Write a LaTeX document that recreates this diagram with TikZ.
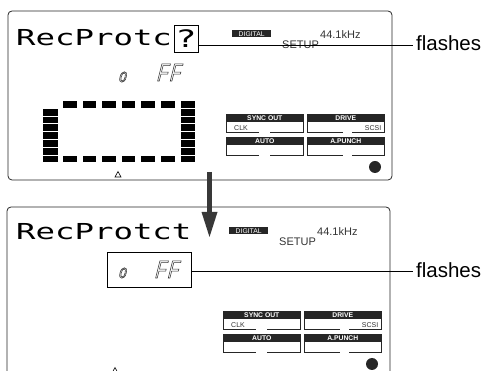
\documentclass[tikz,border=0pt]{standalone}
\usepackage{fontspec}
\setmainfont{Liberation Sans}
\newfontfamily\lcdfont[FakeStretch=1.47]{DejaVu Sans Mono}
\newfontfamily\segfont[FakeStretch=0.7,FakeSlant=0.25]{Liberation Sans}
\usetikzlibrary{arrows.meta}
\newcommand\outl[1]{\special{pdf:literal direct 1 Tr 0.55 w}#1\special{pdf:literal direct 0 Tr}}
\tikzset{
  panel/.style={draw=black!85, line width=0.8pt, rounded corners=4pt},
  lcd/.style={font=\lcdfont\fontsize{22}{22}\selectfont, inner sep=0pt},
  seg/.style={font=\segfont\fontsize{25}{25}\selectfont, inner sep=0pt, anchor=base west, text=black!80},
  segsmall/.style={font=\segfont\fontsize{19}{19}\selectfont, inner sep=0pt, anchor=base west, text=black!80},
  hdr/.style={fill=black!85, draw=black!85, line width=0.6pt, text=white, font=\bfseries\fontsize{6.8}{6.8}\selectfont, inner sep=0pt, minimum height=7pt, minimum width=77pt, anchor=north west},
  digbox/.style={fill=black!85, text=white, font=\fontsize{6.8}{6.8}\selectfont, inner sep=0pt, minimum height=7pt, minimum width=39pt, anchor=north west},
  smalltxt/.style={font=\fontsize{11}{11}\selectfont, inner sep=0pt, text=black!80},
  tinytxt/.style={font=\fontsize{7}{7}\selectfont, inner sep=0pt, text=black!80},
  btnline/.style={draw=black!85, line width=0.6pt},
  dot/.style={circle, fill=black!85, minimum size=12pt, inner sep=0pt},
  flash/.style={font=\fontsize{20.5}{20.5}\selectfont, inner sep=0pt, anchor=base west},
  callout/.style={draw=black, line width=0.8pt},
  blk/.style={fill=black}
}
\newcommand\panelparts[1]{%
  \node[digbox] (#1dig) at (232,30) {DIGITAL};
  \node[smalltxt, anchor=base west] (#1khz) at (320,39) {44.1kHz};
  \node[smalltxt, anchor=base west] (#1setup) at (282,49) {SETUP};
  \node[hdr] (#1sync) at (226,114) {SYNC OUT};
  \node[hdr] (#1drive) at (307,114) {DRIVE};
  \node[hdr] (#1auto) at (226,137) {AUTO};
  \node[hdr] (#1apunch) at (307,137) {A.PUNCH};
  \draw[btnline] (#1sync.south west) -- ++(0,11) -- ++(33,0) (#1sync.south east) -- ++(0,11) -- ++(-34,0);
  \draw[btnline] (#1drive.south west) -- ++(0,11) -- ++(36,0) (#1drive.south east) -- ++(0,11) -- ++(-33,0);
  \draw[btnline] (#1auto.south west) -- ++(0,11) -- ++(33,0) (#1auto.south east) -- ++(0,11) -- ++(-34,0);
  \draw[btnline] (#1apunch.south west) -- ++(0,11) -- ++(36,0) (#1apunch.south east) -- ++(0,11) -- ++(-33,0);
  \node[tinytxt, anchor=base west] (#1clk) at (234,130.5) {CLK};
  \node[tinytxt, anchor=base east] (#1scsi) at (381.5,130.5) {SCSI};
  \node[dot] (#1dot) at (375,167) {};
}
\begin{document}
\begin{tikzpicture}[x=1pt,y=-1pt]
\useasboundingbox (0,0) rectangle (488,371);
% ---------- top panel ----------
\draw[panel] (8,11) rectangle (392,180);
\panelparts{t}
\node[lcd, anchor=base west] (rp1) at (16,46) {RecProtc};
\node[lcd, draw, line width=0.7pt, minimum width=24pt, minimum height=27pt, font=\lcdfont\fontsize{24}{24}\selectfont] (qbox) at (186,38.5) {?};
\node[segsmall] (to) at (118,82) {\outl{o}};
\node[seg] (tff) at (156,81) {\outl{F\kern2ptF}};
% level meter blocks
\foreach \i in {0,...,6} \fill[blk] (43,108.8+7.8*\i) rectangle ++(14.5,6.8);
\foreach \i in {0,...,7} \fill[blk] (181,101+7.8*\i) rectangle ++(13.5,6.8);
\foreach \i in {0,...,5} {
  \fill[blk] (63+19.6*\i,101) rectangle ++(13.5,6.8);
  \fill[blk] (63+19.6*\i,155.6) rectangle ++(13.5,6.8);
}
\draw[line width=0.6pt, line join=miter] (115,177) -- (118,171.5) -- (121,177) -- cycle;
% callout top
\node[flash] (fl1) at (416,51) {flashes};
\coordinate (fe1) at (413,45);
\draw[callout] (qbox.east |- fe1) -- (fe1);
% ---------- bottom panel ----------
\draw[panel] (7,371) -- (7,207) -- (390,207) -- (390,371);
\begin{scope}[shift={(-3,197)}]
\panelparts{b}
\end{scope}
\node[lcd, anchor=base west] (rp2) at (16,240) {RecProtct};
\node[draw, line width=0.7pt, minimum width=84pt, minimum height=35pt, inner sep=0pt] (fbox) at (149,269.5) {};
\node[segsmall] (bo) at (118,278) {\outl{o}};
\node[seg] (bff) at (154,278) {\outl{F\kern2ptF}};
\draw[line width=0.6pt] (111.5,374) -- (115,367.5) -- (118.5,374);
\node[flash] (fl2) at (416,278) {flashes};
\coordinate (fe2) at (413,271);
\draw[callout] (fbox.east |- fe2) -- (fe2);
% ---------- arrow ----------
\coordinate (as) at (209.5,172);
\coordinate (ae) at (209.5,237);
\draw[line width=5.5pt, draw=black!78, fill=black!78, -{Triangle[width=16pt,length=25pt,line width=0pt]}] (as) -- (ae);
\end{tikzpicture}
\end{document}
